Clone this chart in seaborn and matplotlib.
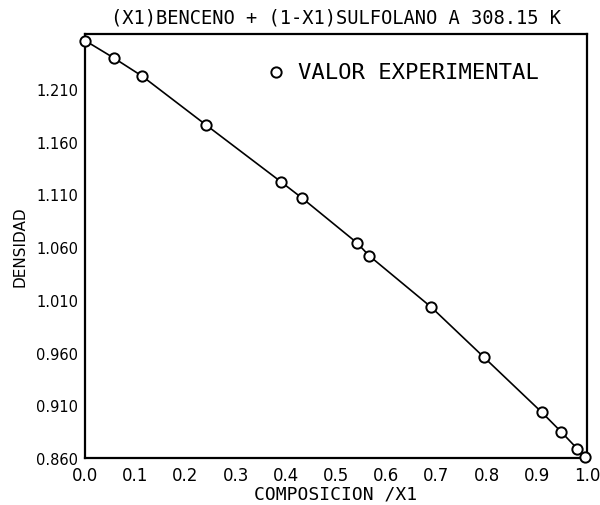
import matplotlib
matplotlib.use("Agg")
import matplotlib.pyplot as plt
import seaborn as sns
import pandas as pd

# Data
x1 = [0.0, 0.058, 0.114, 0.241, 0.390, 0.432, 0.542, 0.566, 0.690, 0.795, 0.910, 0.948, 0.981, 0.996]
densidad = [1.2558, 1.2391, 1.2220, 1.1758, 1.1220, 1.1066, 1.0639, 1.0518, 1.0029, 0.9554, 0.9033, 0.8851, 0.8686, 0.8606]
y_ticks = [0.860, 0.910, 0.960, 1.010, 1.060, 1.110, 1.160, 1.210]
x_ticks = [0.0, 0.1, 0.2, 0.3, 0.4, 0.5, 0.6, 0.7, 0.8, 0.9, 1.0]

title = "(X1)BENCENO + (1-X1)SULFOLANO A 308.15 K"
xlabel = "COMPOSICION /X1"
ylabel = "DENSIDAD"
legend_label = "VALOR EXPERIMENTAL"

df = pd.DataFrame({"x": x1, "d": densidad})

sns.set_theme(style="white")
plt.rcParams["font.family"] = ["DejaVu Sans"]
plt.rcParams["text.color"] = "black"
plt.rcParams["axes.labelcolor"] = "black"
plt.rcParams["xtick.color"] = "black"
plt.rcParams["ytick.color"] = "black"

fig = plt.figure(figsize=(6.0, 5.06), dpi=100)
ax = fig.add_axes([0.1417, 0.0929, 0.8366, 0.8379])

sns.lineplot(data=df, x="x", y="d", ax=ax, color="black", linewidth=1.2, sort=False)
sns.scatterplot(data=df, x="x", y="d", ax=ax, marker="o", s=55, facecolor="white",
                edgecolor="black", linewidth=1.4, label=legend_label, zorder=5, clip_on=False)

ax.set_xlim(0.0, 1.0)
ax.set_ylim(0.860, 1.262)
ax.set_xticks(x_ticks)
ax.set_xticklabels([f"{v:.1f}" for v in x_ticks], fontsize=12)
ax.set_yticks(y_ticks)
ax.set_yticklabels([f"{v:.3f}" for v in y_ticks], fontsize=10.5)
ax.tick_params(axis="both", direction="in", length=4, width=1.2, color="black", labelcolor="black")
ax.tick_params(axis="x", pad=6)
ax.tick_params(axis="y", pad=5)

for side in ["left", "bottom", "right", "top"]:
    ax.spines[side].set_visible(True)
    ax.spines[side].set_color("black")
    ax.spines[side].set_linewidth(1.6)

ax.set_xlabel(xlabel, fontsize=13, family="DejaVu Sans Mono", labelpad=0, color="black")
ax.set_ylabel(ylabel, fontsize=11, labelpad=6, color="black")
ax.set_title(title, fontsize=13.5, family="DejaVu Sans Mono", pad=8, color="black")

leg = ax.legend(loc="upper left", frameon=False, handletextpad=0.5, handlelength=1.0,
                borderaxespad=0.0, borderpad=0.0,
                bbox_to_anchor=(0.358, 0.935), prop={"family": "DejaVu Sans Mono", "size": 16})
for t in leg.get_texts():
    t.set_color("black")

fig.savefig("out.png", dpi=100, facecolor="white")
